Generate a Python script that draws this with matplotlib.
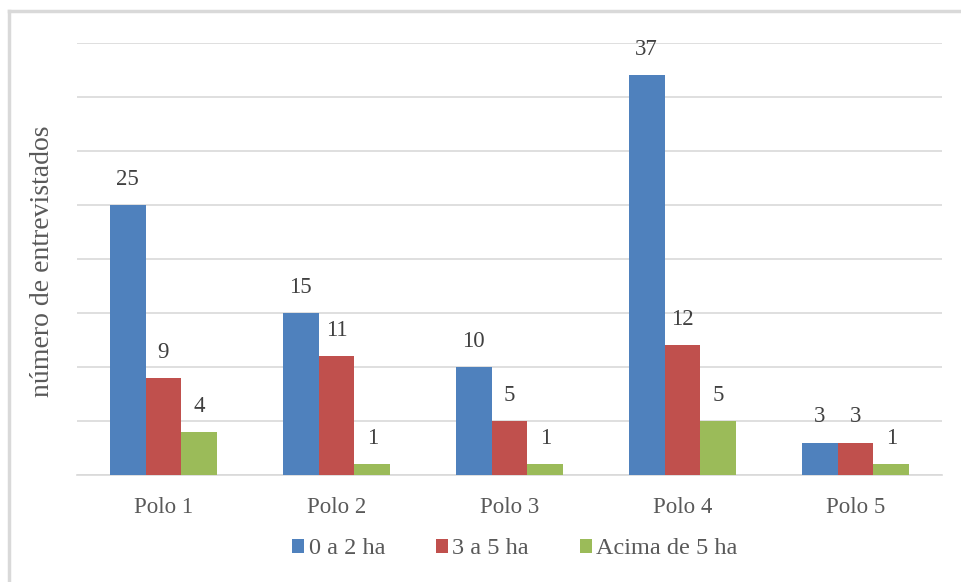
import matplotlib.pyplot as plt
import numpy as np
from matplotlib.lines import Line2D

plt.rcParams["font.family"] = ["Liberation Serif", "DejaVu Serif"]

polos = ["Polo 1", "Polo 2", "Polo 3", "Polo 4", "Polo 5"]
area_0_2 = [25, 15, 10, 37, 3]
area_3_5 = [9, 11, 5, 12, 3]
acima_5 = [4, 1, 1, 5, 1]
series_names = ["0 a 2 ha", "3 a 5 ha", "Acima de 5 ha"]
colors = ["#4F81BD", "#C0504D", "#9BBB59"]

W, H = 962, 582
fig = plt.figure(figsize=(W / 100, H / 100), dpi=100)
ax = fig.add_axes([77 / W, (H - 475) / H, (942 - 77) / W, (475 - 43) / H])

x = np.arange(len(polos))
width = 0.208
for i, (vals, name, c) in enumerate(zip([area_0_2, area_3_5, acima_5], series_names, colors)):
    pos = x + (i - 1) * width
    ax.bar(pos, vals, width, color=c, label=name, zorder=3)
    for px, v in zip(pos, vals):
        ax.annotate(str(v), (px, v), xytext=(0, 11), textcoords="offset points",
                    ha="center", va="bottom", fontsize=16.5, color="#404040")

ax.set_xlim(-0.5, len(polos) - 0.5)
ax.set_ylim(0, 40)
ax.set_yticks(np.arange(0, 41, 5))
ax.yaxis.grid(True, color="#d9d9d9", linewidth=1.2, zorder=0)
ax.tick_params(axis="y", length=0, labelleft=False)
ax.set_xticks(x)
ax.set_xticklabels(polos, fontsize=16.5, color="#595959")
ax.tick_params(axis="x", length=0, pad=16)
for s in ["top", "right", "left"]:
    ax.spines[s].set_visible(False)
ax.spines["bottom"].set_color("#d9d9d9")
ax.spines["bottom"].set_linewidth(1.2)

fig.text(43 / W, 1 - 261 / H, "número de entrevistados", rotation=90,
         ha="center", va="center", fontsize=20, color="#595959")

fig.legend(loc="center", bbox_to_anchor=(515 / W, 1 - 549 / H), ncol=3,
           frameon=False, fontsize=17.5, handlelength=0.5, handleheight=0.5,
           handletextpad=0.17, columnspacing=2.1, labelcolor="#595959")

# outer chart frame (left and top edges)
fig.add_artist(Line2D([9 / W, 9 / W], [0, 1 - 11 / H], color="#d9d9d9", linewidth=2.5))
fig.add_artist(Line2D([9 / W, 1], [1 - 11 / H, 1 - 11 / H], color="#d9d9d9", linewidth=2.5))

fig.savefig("out.png", dpi=100)
